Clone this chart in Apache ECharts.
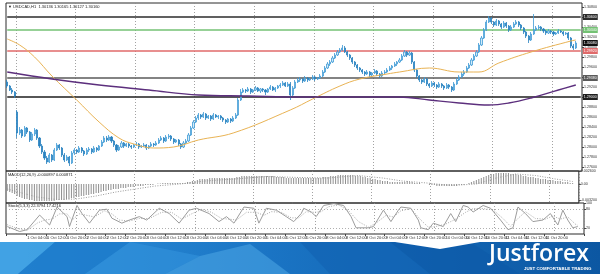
<!DOCTYPE html>
<html><head><meta charset="utf-8">
<script src="https://cdn.jsdelivr.net/npm/echarts@6/dist/echarts.min.js"></script>
<style>html,body{margin:0;padding:0;background:#fff}#c{width:600px;height:274px}</style>
</head><body><div id="c"></div>
<script>
// ---------- DATA ----------
const tickLabels = ['28 Sep 2018','1 Oct 04:00','1 Oct 12:00','1 Oct 20:00','2 Oct 04:00','2 Oct 12:00','2 Oct 20:00','3 Oct 04:00','3 Oct 12:00','3 Oct 20:00','4 Oct 04:00','4 Oct 12:00','4 Oct 20:00','5 Oct 04:00','5 Oct 12:00','5 Oct 20:00','8 Oct 04:00','8 Oct 12:00','8 Oct 20:00','9 Oct 04:00','9 Oct 12:00','9 Oct 20:00','10 Oct 04:00','10 Oct 12:00','10 Oct 20:00','11 Oct 04:00','11 Oct 12:00','11 Oct 20:00','12 Oct 04:00'];
const barCount = 232;
const priceTicks = [1.2760,1.2780,1.2800,1.2820,1.2840,1.2860,1.2880,1.2900,1.2920,1.2940,1.2960,1.2980,1.3000,1.3020,1.3040,1.3060,1.3080];
const macdTicks = [0.0026, 0, -0.0032];
const stochTicks = [100, 80, 20];
const levels = [1.3060, 1.3034, 1.2992, 1.2938, 1.2900];
const lastPrice = 1.3008;
// [open, close, low, high]
const candles = [
[1.2930,1.2922,1.2918,1.2934],[1.2922,1.2914,1.2912,1.2924],[1.2914,1.2910,1.2906,1.2918],[1.2910,1.2902,1.2898,1.2912],
[1.2870,1.2828,1.2818,1.2874],[1.2828,1.2834,1.2824,1.2840],[1.2834,1.2822,1.2818,1.2836],[1.2822,1.2838,1.2820,1.2842],
[1.2838,1.2830,1.2826,1.2840],[1.2830,1.2814,1.2810,1.2832],[1.2814,1.2826,1.2812,1.2830],[1.2826,1.2834,1.2822,1.2838],
[1.2834,1.2818,1.2814,1.2836],[1.2818,1.2802,1.2798,1.2820],[1.2802,1.2790,1.2786,1.2806],[1.2790,1.2778,1.2774,1.2794],
[1.2778,1.2770,1.2766,1.2782],[1.2770,1.2784,1.2768,1.2788],[1.2784,1.2774,1.2770,1.2786],[1.2774,1.2794,1.2772,1.2798],
[1.2794,1.2804,1.2792,1.2808],[1.2804,1.2798,1.2794,1.2806],[1.2798,1.2784,1.2780,1.2800],[1.2784,1.2774,1.2770,1.2788],
[1.2774,1.2780,1.2772,1.2784],[1.2780,1.2768,1.2762,1.2782],[1.2768,1.2788,1.2766,1.2792],[1.2788,1.2794,1.2784,1.2798],
[1.2794,1.2790,1.2786,1.2796],[1.2790,1.2798,1.2788,1.2802],[1.2798,1.2792,1.2788,1.2800],[1.2792,1.2786,1.2782,1.2794],
[1.2786,1.2794,1.2784,1.2798],[1.2794,1.2796,1.2790,1.2800],[1.2796,1.2790,1.2786,1.2798],[1.2790,1.2798,1.2788,1.2802],
[1.2798,1.2794,1.2790,1.2800],[1.2794,1.2802,1.2792,1.2804],[1.2802,1.2810,1.2800,1.2814],[1.2810,1.2818,1.2808,1.2822],
[1.2818,1.2814,1.2810,1.2822],[1.2814,1.2820,1.2812,1.2824],[1.2820,1.2812,1.2808,1.2822],[1.2812,1.2804,1.2800,1.2814],
[1.2804,1.2794,1.2790,1.2806],[1.2794,1.2800,1.2792,1.2804],[1.2800,1.2808,1.2798,1.2812],[1.2808,1.2802,1.2798,1.2810],
[1.2802,1.2806,1.2800,1.2808],[1.2806,1.2802,1.2798,1.2808],[1.2802,1.2800,1.2796,1.2804],[1.2800,1.2804,1.2798,1.2806],
[1.2804,1.2806,1.2802,1.2810],[1.2806,1.2800,1.2796,1.2808],[1.2800,1.2802,1.2798,1.2804],[1.2802,1.2804,1.2800,1.2808],
[1.2804,1.2798,1.2794,1.2806],[1.2798,1.2802,1.2796,1.2804],[1.2802,1.2806,1.2800,1.2810],[1.2806,1.2804,1.2800,1.2808],
[1.2804,1.2808,1.2802,1.2812],[1.2808,1.2814,1.2806,1.2818],[1.2814,1.2818,1.2812,1.2822],[1.2818,1.2812,1.2808,1.2820],
[1.2812,1.2820,1.2810,1.2824],[1.2820,1.2822,1.2816,1.2826],[1.2822,1.2816,1.2812,1.2824],[1.2816,1.2810,1.2806,1.2818],
[1.2810,1.2814,1.2808,1.2816],[1.2814,1.2806,1.2802,1.2816],[1.2806,1.2800,1.2796,1.2808],[1.2800,1.2808,1.2798,1.2812],
[1.2808,1.2812,1.2806,1.2816],[1.2812,1.2824,1.2810,1.2828],[1.2824,1.2838,1.2822,1.2842],[1.2838,1.2850,1.2836,1.2854],
[1.2850,1.2858,1.2848,1.2862],[1.2858,1.2864,1.2854,1.2868],[1.2864,1.2860,1.2856,1.2866],[1.2860,1.2866,1.2858,1.2870],
[1.2866,1.2858,1.2854,1.2868],[1.2858,1.2862,1.2856,1.2864],[1.2862,1.2856,1.2852,1.2864],[1.2856,1.2864,1.2854,1.2868],
[1.2864,1.2860,1.2858,1.2866],[1.2860,1.2862,1.2856,1.2864],[1.2862,1.2858,1.2854,1.2864],[1.2858,1.2854,1.2850,1.2860],
[1.2854,1.2850,1.2846,1.2856],[1.2850,1.2856,1.2848,1.2858],[1.2856,1.2852,1.2848,1.2858],[1.2852,1.2858,1.2850,1.2862],
[1.2858,1.2864,1.2856,1.2868],[1.2864,1.2894,1.2862,1.2898],[1.2894,1.2910,1.2892,1.2916],[1.2910,1.2914,1.2908,1.2918],
[1.2914,1.2912,1.2908,1.2916],[1.2912,1.2916,1.2910,1.2920],[1.2916,1.2910,1.2906,1.2918],[1.2910,1.2914,1.2908,1.2916],
[1.2914,1.2918,1.2912,1.2922],[1.2918,1.2912,1.2910,1.2920],[1.2912,1.2916,1.2908,1.2918],[1.2916,1.2914,1.2910,1.2918],
[1.2914,1.2910,1.2904,1.2916],[1.2910,1.2916,1.2908,1.2918],[1.2916,1.2920,1.2914,1.2924],[1.2920,1.2914,1.2912,1.2922],
[1.2914,1.2918,1.2910,1.2920],[1.2918,1.2922,1.2916,1.2924],[1.2922,1.2924,1.2918,1.2928],[1.2924,1.2928,1.2922,1.2932],
[1.2928,1.2922,1.2920,1.2930],[1.2922,1.2926,1.2920,1.2930],[1.2926,1.2904,1.2894,1.2930],[1.2904,1.2918,1.2902,1.2922],
[1.2918,1.2930,1.2916,1.2934],[1.2930,1.2934,1.2928,1.2938],[1.2934,1.2936,1.2930,1.2940],[1.2936,1.2932,1.2928,1.2938],
[1.2932,1.2938,1.2930,1.2942],[1.2938,1.2934,1.2930,1.2940],[1.2934,1.2936,1.2932,1.2938],[1.2936,1.2940,1.2934,1.2944],
[1.2940,1.2936,1.2932,1.2942],[1.2936,1.2938,1.2934,1.2940],[1.2938,1.2942,1.2936,1.2946],[1.2942,1.2950,1.2940,1.2954],
[1.2950,1.2958,1.2948,1.2962],[1.2958,1.2966,1.2956,1.2970],[1.2966,1.2970,1.2962,1.2974],[1.2970,1.2978,1.2968,1.2982],
[1.2978,1.2984,1.2976,1.2988],[1.2984,1.2990,1.2982,1.2994],[1.2990,1.2994,1.2988,1.2998],[1.2994,1.2998,1.2992,1.3004],
[1.2998,1.2990,1.2988,1.3002],[1.2990,1.2984,1.2980,1.2992],[1.2984,1.2978,1.2974,1.2986],[1.2978,1.2970,1.2966,1.2980],
[1.2970,1.2964,1.2960,1.2972],[1.2964,1.2958,1.2954,1.2966],[1.2958,1.2954,1.2950,1.2960],[1.2954,1.2950,1.2946,1.2956],
[1.2950,1.2946,1.2942,1.2952],[1.2946,1.2950,1.2944,1.2954],[1.2950,1.2944,1.2940,1.2952],[1.2944,1.2948,1.2942,1.2950],
[1.2948,1.2952,1.2946,1.2956],[1.2952,1.2946,1.2942,1.2954],[1.2946,1.2942,1.2938,1.2948],[1.2942,1.2948,1.2940,1.2952],
[1.2948,1.2950,1.2946,1.2954],[1.2950,1.2954,1.2948,1.2958],[1.2954,1.2958,1.2952,1.2962],[1.2958,1.2962,1.2954,1.2964],
[1.2962,1.2966,1.2960,1.2970],[1.2966,1.2970,1.2962,1.2972],[1.2970,1.2974,1.2968,1.2978],[1.2974,1.2982,1.2972,1.2986],
[1.2982,1.2990,1.2980,1.2994],[1.2990,1.2984,1.2980,1.2992],[1.2984,1.2988,1.2982,1.2992],[1.2988,1.2970,1.2966,1.2990],
[1.2970,1.2954,1.2950,1.2972],[1.2954,1.2942,1.2938,1.2956],[1.2942,1.2934,1.2930,1.2944],[1.2934,1.2930,1.2926,1.2936],
[1.2930,1.2936,1.2928,1.2940],[1.2936,1.2926,1.2922,1.2938],[1.2926,1.2922,1.2918,1.2928],[1.2922,1.2928,1.2920,1.2932],
[1.2928,1.2924,1.2920,1.2930],[1.2924,1.2920,1.2916,1.2926],[1.2920,1.2926,1.2918,1.2930],[1.2926,1.2922,1.2918,1.2928],
[1.2922,1.2918,1.2914,1.2924],[1.2918,1.2924,1.2916,1.2928],[1.2924,1.2920,1.2916,1.2926],[1.2920,1.2914,1.2910,1.2922],
[1.2914,1.2926,1.2912,1.2930],[1.2926,1.2934,1.2924,1.2938],[1.2934,1.2940,1.2932,1.2944],[1.2940,1.2946,1.2938,1.2950],
[1.2946,1.2950,1.2942,1.2954],[1.2950,1.2958,1.2948,1.2962],[1.2958,1.2964,1.2956,1.2968],[1.2964,1.2974,1.2962,1.2978],
[1.2974,1.2982,1.2972,1.2986],[1.2982,1.2990,1.2980,1.2994],[1.2990,1.3004,1.2988,1.3008],[1.3004,1.3018,1.3002,1.3022],
[1.3018,1.3034,1.3016,1.3038],[1.3034,1.3050,1.3032,1.3054],[1.3050,1.3058,1.3048,1.3062],[1.3058,1.3050,1.3046,1.3060],
[1.3050,1.3044,1.3040,1.3052],[1.3044,1.3052,1.3042,1.3056],[1.3052,1.3046,1.3042,1.3054],[1.3046,1.3040,1.3036,1.3048],
[1.3040,1.3048,1.3038,1.3052],[1.3048,1.3042,1.3038,1.3050],[1.3042,1.3034,1.3030,1.3044],[1.3034,1.3040,1.3032,1.3044],
[1.3040,1.3046,1.3038,1.3050],[1.3046,1.3050,1.3044,1.3054],[1.3050,1.3044,1.3040,1.3052],[1.3044,1.3038,1.3034,1.3046],
[1.3038,1.3030,1.3026,1.3040],[1.3030,1.3022,1.3018,1.3032],[1.3022,1.3014,1.3008,1.3024],[1.3014,1.3026,1.3012,1.3030],
[1.3026,1.3034,1.3024,1.3066],[1.3034,1.3038,1.3032,1.3042],[1.3038,1.3040,1.3034,1.3044],[1.3040,1.3036,1.3032,1.3042],
[1.3036,1.3032,1.3028,1.3038],[1.3032,1.3028,1.3024,1.3034],[1.3028,1.3032,1.3026,1.3036],[1.3032,1.3030,1.3026,1.3034],
[1.3030,1.3026,1.3022,1.3032],[1.3026,1.3028,1.3024,1.3030],[1.3028,1.3032,1.3026,1.3036],[1.3032,1.3030,1.3028,1.3034],
[1.3030,1.3026,1.3022,1.3032],[1.3026,1.3028,1.3024,1.3030],[1.3028,1.3018,1.3014,1.3030],[1.3018,1.3002,1.2998,1.3020],
[1.3002,1.2998,1.2994,1.3006],[1.2998,1.3008,1.2996,1.3012]
];
// moving averages read at sample bars: [bar, value]
const maFast = [[0,1.3016],[5,1.3004],[11,1.2980],[18,1.2942],[28,1.2894],[37,1.2850],[45,1.2818],[51,1.2806],[59,1.2798],[67,1.2800],[77,1.2814],[91,1.2828],[114,1.2874],[123,1.2896],[134,1.2922],[142,1.2936],[153,1.2946],[158,1.2950],[170,1.2958],[182,1.2950],[190,1.2950],[198,1.2968],[211,1.2990],[227,1.3012],[229,1.3014]];
const maSlow = [[0,1.2950],[18,1.2936],[37,1.2924],[57,1.2914],[77,1.2904],[97,1.2902],[118,1.2900],[138,1.2900],[158,1.2900],[170,1.2894],[182,1.2888],[194,1.2884],[202,1.2888],[211,1.2898],[222,1.2914],[229,1.2924]];
const macdHist = [
-0.0014,-0.0016,-0.0018,-0.0020,-0.0024,-0.0026,-0.0028,-0.0030,-0.0030,-0.0032,
-0.0032,-0.0034,-0.0034,-0.0034,-0.0034,-0.0034,-0.0034,-0.0034,-0.0034,-0.0034,
-0.0032,-0.0032,-0.0032,-0.0032,-0.0030,-0.0030,-0.0028,-0.0028,-0.0026,-0.0026,
-0.0024,-0.0024,-0.0022,-0.0022,-0.0020,-0.0020,-0.0018,-0.0018,-0.0016,-0.0014,
-0.0014,-0.0012,-0.0012,-0.0010,-0.0010,-0.0010,-0.0008,-0.0008,-0.0008,-0.0006,
-0.0006,-0.0006,-0.0004,-0.0004,-0.0004,-0.0004,-0.0002,-0.0002,-0.0002,-0.0002,
0.0000,0.0001,0.0001,0.0002,0.0002,0.0002,0.0002,0.0002,0.0002,0.0002,
0.0002,0.0002,0.0002,0.0004,0.0004,0.0006,0.0006,0.0008,0.0010,0.0010,
0.0010,0.0010,0.0012,0.0012,0.0012,0.0012,0.0012,0.0012,0.0012,0.0012,
0.0012,0.0012,0.0012,0.0014,0.0014,0.0016,0.0016,0.0016,0.0016,0.0016,
0.0016,0.0016,0.0016,0.0016,0.0016,0.0016,0.0016,0.0016,0.0016,0.0014,
0.0014,0.0014,0.0014,0.0012,0.0012,0.0012,0.0012,0.0012,0.0012,0.0012,
0.0012,0.0012,0.0012,0.0012,0.0012,0.0012,0.0012,0.0012,0.0014,0.0014,
0.0014,0.0016,0.0016,0.0016,0.0018,0.0018,0.0018,0.0018,0.0018,0.0018,
0.0018,0.0016,0.0016,0.0016,0.0014,0.0014,0.0012,0.0012,0.0010,0.0010,
0.0008,0.0008,0.0006,0.0006,0.0006,0.0004,0.0004,0.0004,0.0004,0.0004,
0.0004,0.0004,0.0006,0.0004,0.0004,0.0002,0.0002,0.0002,0.0000,0.0000,
0.0000,-0.0002,-0.0002,-0.0002,-0.0004,-0.0004,-0.0004,-0.0004,-0.0004,-0.0004,
-0.0004,-0.0004,-0.0004,-0.0002,-0.0002,-0.0002,0.0000,0.0002,0.0004,0.0006,
0.0008,0.0010,0.0012,0.0014,0.0016,0.0018,0.0020,0.0020,0.0022,0.0022,
0.0022,0.0022,0.0022,0.0022,0.0020,0.0020,0.0020,0.0018,0.0018,0.0016,
0.0016,0.0014,0.0014,0.0014,0.0012,0.0012,0.0010,0.0010,0.0010,0.0008,
0.0008,0.0008,0.0006,0.0006,0.0006,0.0004,0.0004,0.0004,0.0002,0.0002
];
const macdSignal = [[0,-0.0010],[6,-0.0018],[12,-0.0026],[20,-0.0031],[28,-0.0030],[36,-0.0024],[44,-0.0016],[52,-0.0010],[60,-0.0004],[70,0.0000],[80,0.0006],[92,0.0010],[105,0.0015],[118,0.0013],[130,0.0012],[142,0.0017],[152,0.0012],[160,0.0006],[170,0.0002],[180,-0.0003],[190,0.0000],[198,0.0012],[206,0.0020],[214,0.0017],[222,0.0010],[229,0.0005]];
const stochK = [[0,24],[5,8],[8,14],[13,61],[17,29],[20,87],[24,56],[25,24],[28,92],[30,66],[33,35],[37,77],[40,80],[42,51],[46,35],[49,45],[53,56],[56,45],[61,83],[65,66],[69,35],[73,77],[76,83],[81,66],[85,40],[88,56],[91,35],[95,87],[99,83],[101,35],[104,83],[108,77],[112,56],[115,40],[118,66],[119,83],[122,71],[124,56],[127,92],[131,98],[135,92],[138,56],[140,20],[145,20],[147,24],[151,77],[154,40],[157,77],[158,87],[162,83],[165,45],[166,20],[169,14],[171,35],[175,24],[178,66],[180,40],[183,92],[185,87],[187,71],[191,92],[194,83],[198,45],[201,14],[203,20],[205,87],[208,66],[211,40],[215,45],[218,66],[221,29],[223,77],[225,45],[227,20],[229,24]];
const stochD = [[0,30],[4,18],[8,12],[12,35],[15,45],[18,48],[21,65],[24,65],[26,45],[29,65],[32,60],[35,55],[39,75],[42,65],[45,45],[49,42],[53,50],[57,50],[62,70],[66,70],[70,48],[74,65],[78,80],[82,70],[86,50],[89,48],[92,45],[96,70],[100,70],[103,60],[106,72],[110,70],[114,52],[117,52],[120,72],[123,70],[126,72],[129,88],[133,94],[137,75],[141,40],[145,22],[148,35],[152,60],[155,55],[158,75],[162,82],[166,45],[169,22],[172,24],[176,32],[180,48],[184,70],[187,82],[191,82],[195,78],[199,50],[202,25],[205,50],[208,72],[212,50],[216,48],[219,58],[222,48],[225,55],[228,32],[229,28]];
const stochLevels = [80, 20];

// ---------- CHART ----------
const FONT = 'Liberation Sans';
const bars = Array.from({length: barCount}, (_, i) => String(i));
const lastBar = barCount - 1;
const levelColors = ['#2b2b2b', '#74c274', '#e06a6a', '#5a5a5a', '#1e1e1e'];
const dayLine = (i) => i >= 4 && (i - 4) % 24 === 0;
const gridBase = {left: 6, right: 16, show: true, borderColor: '#2a2a2a', borderWidth: 1};

function xAx(gi, withLabels) {
  return {
    type: 'category', gridIndex: gi, data: bars, boundaryGap: true,
    axisLine: {show: false},
    axisTick: withLabels ? {show: true, interval: (i) => i % 8 === 0, length: 2, lineStyle: {color: '#444'}} : {show: false},
    axisLabel: withLabels ? {show: true, interval: (i) => i % 8 === 0,
      formatter: (v, i) => tickLabels[i / 8] || '', fontSize: 4, color: '#333', align: 'left', margin: 2, fontFamily: FONT} : {show: false},
    splitLine: {show: true, interval: dayLine, lineStyle: {color: '#8a8a8a', type: [1, 2], width: 0.8}}
  };
}
function yAx(gi, min, max, ticks, fmt) {
  return {
    type: 'value', gridIndex: gi, position: 'right', min: min, max: max,
    splitLine: {show: false}, axisLine: {show: false},
    axisTick: {show: true, customValues: ticks, length: 2, lineStyle: {color: '#444'}},
    axisLabel: {show: true, customValues: ticks, formatter: fmt, fontSize: 3.6, margin: 2, color: '#333', fontFamily: FONT}
  };
}
function boxLabel(bg) {
  return {show: true, formatter: (p) => p.value[1].toFixed(5), backgroundColor: bg, color: '#fff',
    fontSize: 3.6, padding: [1, 1], distance: 2, fontFamily: FONT};
}
const levelSeries = levels.map((v, k) => ({
  type: 'line', xAxisIndex: 0, yAxisIndex: 0, z: 3, silent: true, showSymbol: false,
  data: [[0, v], [lastBar, v]],
  lineStyle: {color: levelColors[k], width: 1.3},
  endLabel: boxLabel(levelColors[k])
}));
levelSeries.push({
  type: 'line', xAxisIndex: 0, yAxisIndex: 0, z: 4, silent: true, showSymbol: false,
  data: [[0, lastPrice], [lastBar, lastPrice]],
  lineStyle: {opacity: 0},
  endLabel: boxLabel('#111111')
});

const option = {
  animation: false,
  backgroundColor: '#ffffff',
  grid: [
    Object.assign({top: 3, height: 168}, gridBase),
    Object.assign({top: 171, height: 32}, gridBase),
    Object.assign({top: 203, height: 31}, gridBase)
  ],
  xAxis: [xAx(0, false), xAx(1, false), xAx(2, true)],
  yAxis: [
    yAx(0, 1.2752, 1.3088, priceTicks, (v) => v.toFixed(5)),
    yAx(1, -0.0038, 0.0026, macdTicks, (v) => v === 0 ? '0.00' : v.toFixed(6)),
    yAx(2, 0, 100, stochTicks, (v) => String(v))
  ],
  series: [
    {type: 'candlestick', xAxisIndex: 0, yAxisIndex: 0, data: candles, barWidth: 1.6, z: 5,
      itemStyle: {color: '#d2ebf8', color0: '#2a83c0', borderColor: '#3f9bd6', borderColor0: '#2a83c0', borderWidth: 0.8}},
    {type: 'line', xAxisIndex: 0, yAxisIndex: 0, data: maFast, smooth: 0.4, showSymbol: false, z: 6,
      lineStyle: {color: '#e9b354', width: 1}},
    {type: 'line', xAxisIndex: 0, yAxisIndex: 0, data: maSlow, smooth: 0.4, showSymbol: false, z: 6,
      lineStyle: {color: '#5c2f7d', width: 1.4}},
    {type: 'bar', xAxisIndex: 1, yAxisIndex: 1, data: macdHist, barWidth: 1, itemStyle: {color: '#8f8f8f'}},
    {type: 'line', xAxisIndex: 1, yAxisIndex: 1, data: macdSignal, showSymbol: false,
      lineStyle: {color: '#9a9a9a', width: 1, type: [1, 1.5]}},
    {type: 'line', xAxisIndex: 2, yAxisIndex: 2, data: stochK, showSymbol: false,
      lineStyle: {color: '#9c9c9c', width: 1},
      markLine: {symbol: 'none', silent: true, label: {show: false},
        lineStyle: {color: '#9a9a9a', type: [1, 2], width: 0.8},
        data: stochLevels.map(v => ({yAxis: v}))}},
    {type: 'line', xAxisIndex: 2, yAxisIndex: 2, data: stochD, showSymbol: false,
      lineStyle: {color: '#a8a8a8', width: 1, type: [1, 1.5]}}
  ].concat(levelSeries),
  graphic: [
    {type: 'text', left: 8, top: 5, style: {text: '\u25BC USDCAD,H1  1.30136 1.30165 1.30127 1.30160', fontSize: 4, fill: '#222', fontFamily: FONT}},
    {type: 'text', left: 8, top: 173, style: {text: 'MACD(12,26,9) -0.000897 0.000871', fontSize: 4, fill: '#222', fontFamily: FONT}},
    {type: 'text', left: 8, top: 204, style: {text: 'Stoch(5,3,3) 22.3794 17.4216', fontSize: 4, fill: '#222', fontFamily: FONT}},
    {type: 'group', left: 0, top: 242, children: [
      {type: 'rect', shape: {x: 0, y: 0, width: 600, height: 32},
        style: {fill: new echarts.graphic.LinearGradient(0, 0, 1, 0, [{offset: 0, color: '#2f92db'}, {offset: 0.45, color: '#1a74c4'}, {offset: 1, color: '#0c57a2'}])}},
      {type: 'polygon', shape: {points: [[0, 0], [55, 0], [18, 32], [0, 32]]}, style: {fill: '#46a6e6', opacity: 0.8}},
      {type: 'polygon', shape: {points: [[55, 0], [130, 0], [85, 32], [18, 32]]}, style: {fill: '#1d7acb', opacity: 0.8}},
      {type: 'polygon', shape: {points: [[130, 0], [200, 14], [165, 32], [85, 32]]}, style: {fill: '#3190da', opacity: 0.7}},
      {type: 'polygon', shape: {points: [[200, 14], [250, 2], [290, 32], [165, 32]]}, style: {fill: '#4aa3e2', opacity: 0.6}},
      {type: 'polygon', shape: {points: [[300, 0], [390, 0], [430, 32], [330, 32]]}, style: {fill: '#1264b4', opacity: 0.7}},
      {type: 'polygon', shape: {points: [[390, 0], [470, 0], [520, 32], [430, 32]]}, style: {fill: '#0d5aa8', opacity: 0.7}},
      {type: 'polygon', shape: {points: [[395, 0], [480, 0], [440, 7]]}, style: {fill: '#ffffff'}},
      {type: 'text', x: 489, y: 1, style: {text: 'Justforex', fontSize: 23, fontWeight: 600, fill: '#ffffff', fontFamily: 'Open Sans'}},
      {type: 'text', x: 524, y: 25, style: {text: 'JUST COMFORTABLE TRADING', fontSize: 4.4, fontWeight: 'bold', fill: '#ffffff', fontFamily: FONT}}
    ]}
  ]
};
const chart = echarts.init(document.getElementById('c'), null, {renderer: 'canvas'});
chart.setOption(option);
</script>
</body></html>
